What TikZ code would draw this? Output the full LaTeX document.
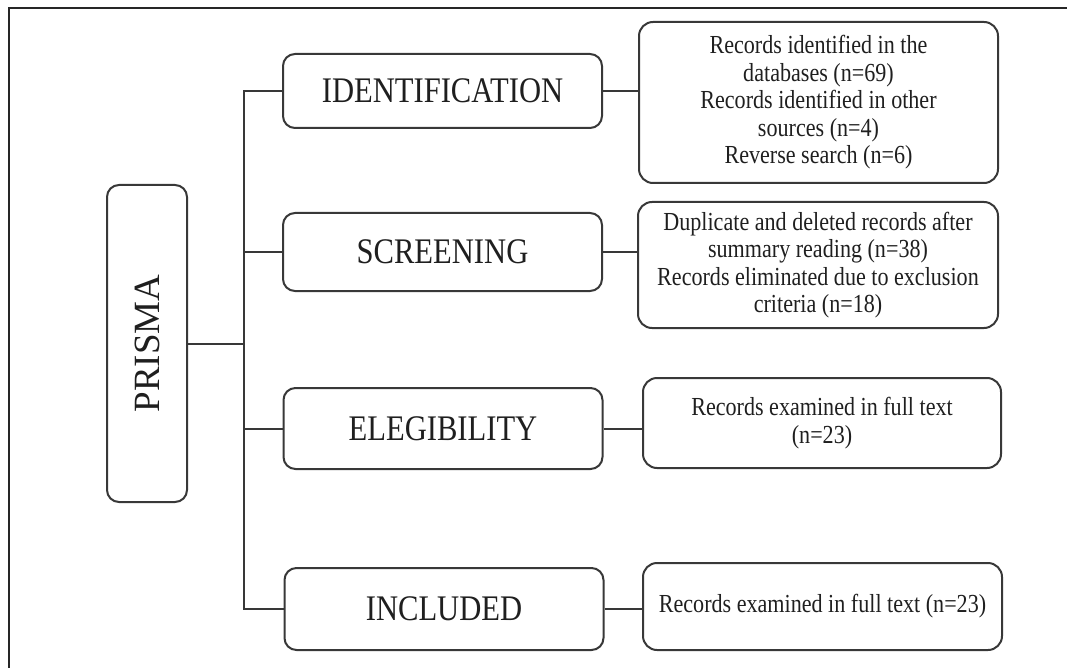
\documentclass[tikz,border=0pt]{standalone}
\usepackage{fontspec}
\setmainfont{Liberation Serif}
\newfontfamily\nserif{Liberation Serif}[FakeStretch=0.85]
\begin{document}
\begin{tikzpicture}[x=1pt,y=-1pt,
  box/.style={draw=black!78, line width=2pt, rounded corners=12pt, inner sep=0pt, align=center, text=black!88},
  stagebox/.style={box, minimum width=319pt, font=\nserif\fontsize{36}{40}\selectfont},
  infobox/.style={box, rounded corners=14pt, minimum width=359pt, font=\nserif\fontsize{26}{27.5}\selectfont},
  link/.style={draw=black!78, line width=2pt}]
\useasboundingbox (0,0) rectangle (1067,668);
\draw[line width=1.5pt, black!85] (9,668) -- (9,8) -- (1067,8);

\node[box, minimum width=80pt, minimum height=317pt, font=\fontsize{37}{40}\selectfont] (prisma) at (147,343.5) {\rotatebox{90}{PRISMA}};

\node[stagebox, minimum height=74pt] (ident) at (442.5,91) {IDENTIFICATION};
\node[stagebox, minimum height=78pt] (scr) at (442.5,252) {SCREENING};
\node[stagebox, minimum height=81pt] (eleg) at (443,428.5) {ELEGIBILITY};
\node[stagebox, minimum height=82pt] (incl) at (444,609) {INCLUDED};

\node[infobox, minimum height=161pt] (idet) at (818.5,102.5) {Records identified in the\\ databases (n=69)\\ Records identified in other\\ sources (n=4)\\ Reverse search (n=6)};
\node[infobox, minimum height=126pt, minimum width=360pt] (sdet) at (818,265) {Duplicate and deleted records after\\ summary reading (n=38)\\ Records eliminated due to exclusion\\ criteria (n=18)};
\node[infobox, minimum height=90pt, minimum width=358pt] (edet) at (822,423) {Records examined in full text\\ (n=23)};
\node[infobox, minimum height=87pt] (indet) at (822.5,606.5) {Records examined in full text (n=23)};

\coordinate (trunk) at (244,343.5);
\draw[link] (ident.west) -- (ident.west -| trunk) -- (incl.west -| trunk) -- (incl.west);
\draw[link] (scr.west) -- (scr.west -| trunk);
\draw[link] (eleg.west) -- (eleg.west -| trunk);
\draw[link] (prisma.east) -- (trunk);

\draw[link] (ident.east) -- (ident.east -| idet.west);
\draw[link] (scr.east) -- (scr.east -| sdet.west);
\draw[link] (eleg.east) -- (eleg.east -| edet.west);
\draw[link] (incl.east) -- (incl.east -| indet.west);
\end{tikzpicture}
\end{document}
